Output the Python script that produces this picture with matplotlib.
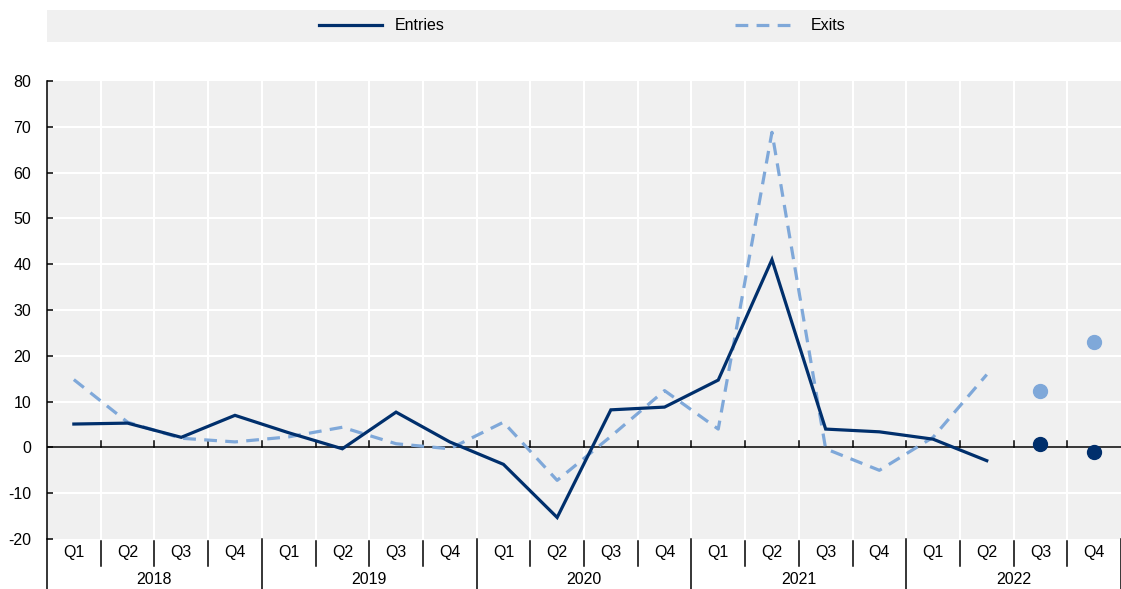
import numpy as np
import matplotlib.pyplot as plt
import matplotlib.transforms as mtransforms
from matplotlib.patches import Rectangle

plt.rcParams['font.family'] = ['Liberation Sans', 'DejaVu Sans']
plt.rcParams['axes.unicode_minus'] = False
fs = 11.5

# Dados
quarters = ['Q1', 'Q2', 'Q3', 'Q4'] * 5
years = ['2018', '2019', '2020', '2021', '2022']
entries = [5.1, 5.3, 2.2, 7.0, 3.2, -0.3, 7.7, 1.2, -3.7, -15.3,
           8.2, 8.8, 14.7, 41.0, 4.0, 3.4, 1.8, -2.9]
exits = [14.8, 5.5, 2.0, 1.2, 2.3, 4.4, 0.8, -0.3, 5.5, -7.2,
         2.4, 12.4, 4.0, 68.8, -0.3, -5.0, 2.2, 15.9]
proj_entries = [0.7, -1.1]
proj_exits = [12.3, 23.1]

navy = '#002F6C'
light = '#7FA8D9'
bg = '#F0F0F0'

W, H = 1121, 589
fig = plt.figure(figsize=(W / 100, H / 100), dpi=100)
ax = fig.add_axes([47 / W, 1 - 539 / H, 1 - 47 / W, (539 - 81) / H])
ax.set_facecolor(bg)

n = len(quarters)
x = np.arange(n)
ax.set_xlim(-0.5, n - 0.5)
ax.set_ylim(-20, 80)

# grade
for b in np.arange(0.5, n - 0.5, 1):
    ax.axvline(b, color='white', lw=1.5, zorder=1)
for yv in range(-10, 80, 10):
    ax.axhline(yv, color='white', lw=1.5, zorder=1)
ax.axhline(0, color='black', lw=1.1, zorder=2)

# pequenos ticks sobre o zero
for b in np.arange(0.5, n - 0.5, 1):
    ax.plot([b, b], [0, 1.3], color='black', lw=1.1, zorder=2)

xs = x[:len(entries)]
ax.plot(xs, entries, color=navy, lw=2.3, zorder=4, label='Entries',
        solid_joinstyle='miter')
ax.plot(xs, exits, color=light, lw=2.3, dashes=(4, 2.6), zorder=3,
        label='Exits')
xp = x[len(entries):]
ax.plot(xp, proj_exits, 'o', color=light, ms=10, zorder=3)
ax.plot(xp, proj_entries, 'o', color=navy, ms=10, zorder=4)

for s in ['top', 'right', 'bottom']:
    ax.spines[s].set_visible(False)
ax.spines['left'].set_color('black')
ax.spines['left'].set_linewidth(1.1)
ax.spines['left'].set_bounds(-20, 80)

ax.set_yticks(range(-20, 90, 10))
ax.tick_params(axis='y', direction='in', length=4.5, width=1.1,
               labelsize=fs, pad=11.5)
ax.set_xticks([])

# rótulos de categoria
trans = mtransforms.blended_transform_factory(ax.transData, fig.transFigure)
y_q = 1 - 553 / H
y_yr = 1 - 579 / H
for i, q in enumerate(quarters):
    ax.text(i, y_q, q, transform=trans, ha='center', va='center', fontsize=fs)
for k, yr in enumerate(years):
    ax.text(4 * k + 1.5, y_yr, yr, transform=trans, ha='center', va='center',
            fontsize=fs)
for b in np.arange(-0.5, n, 1):
    if abs((b + 0.5) % 4) < 1e-9:
        ax.plot([b, b], [1 - 539 / H, 0], transform=trans, color='black',
                lw=1.1, clip_on=False)
    else:
        ax.plot([b, b], [1 - 541 / H, 1 - 566 / H], transform=trans,
                color='black', lw=1.1, clip_on=False)

# legenda
fig.patches.append(Rectangle((47 / W, 1 - 42 / H), 1 - 47 / W, 32 / H,
                             transform=fig.transFigure, facecolor=bg,
                             edgecolor='none', zorder=0))
px = fs * 1.389
fig.legend(loc='center', bbox_to_anchor=(582 / W, 1 - 26 / H), ncol=2,
           frameon=False, fontsize=fs, handlelength=63 / px,
           handletextpad=13 / px, columnspacing=290 / px, borderpad=0)

fig.savefig('out.png', dpi=100)
